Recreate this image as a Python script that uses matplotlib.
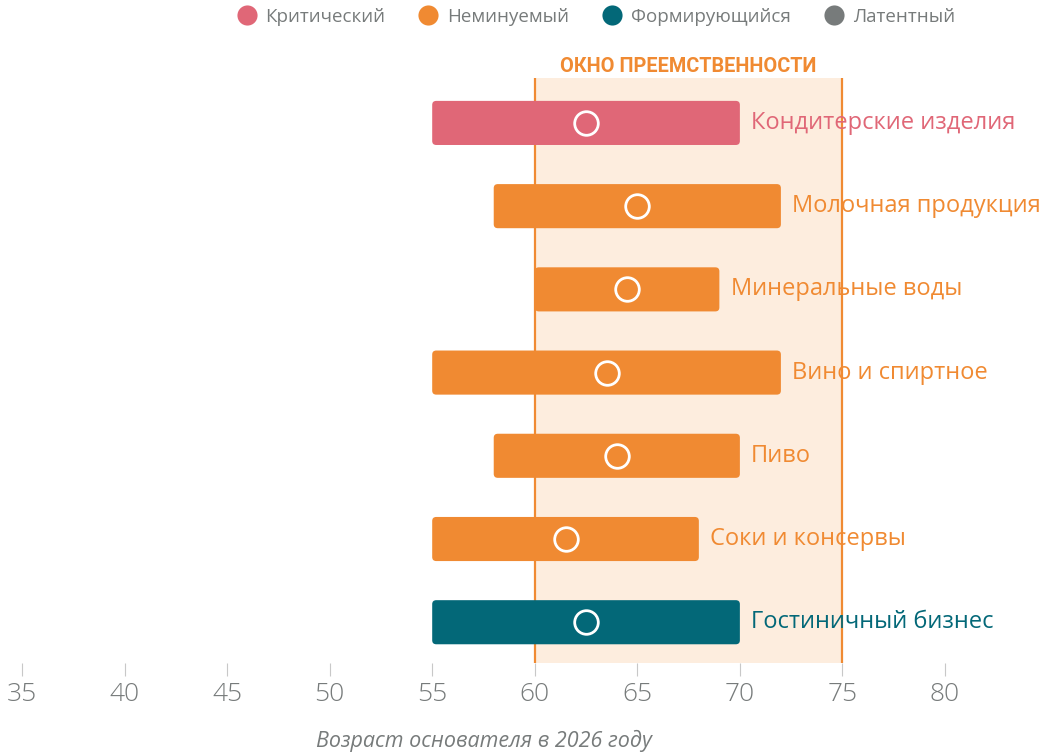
import matplotlib

matplotlib.use("Agg")
import matplotlib.pyplot as plt
from matplotlib.lines import Line2D
from matplotlib.patches import FancyBboxPatch

# founder-age ranges per industry, in years (age in 2026)
industries = [
    "Кондитерские изделия",
    "Молочная продукция",
    "Минеральные воды",
    "Вино и спиртное",
    "Пиво",
    "Соки и консервы",
    "Гостиничный бизнес",
]
age_min = [55, 58, 60, 55, 58, 55, 55]
age_max = [70, 72, 69, 72, 70, 68, 70]
age_median = [62.5, 65, 64.5, 63.5, 64, 61.5, 62.5]
status = ["crit", "inev", "inev", "inev", "inev", "inev", "form"]

status_labels = {
    "crit": "Критический",
    "inev": "Неминуемый",
    "form": "Формирующийся",
    "lat": "Латентный",
}
window = (60, 75)
x_ticks = [35, 40, 45, 50, 55, 60, 65, 70, 75, 80]

colors = {
    "crit": "#E06777",
    "inev": "#F08A32",
    "form": "#036878",
    "lat": "#777B7B",
}
ORANGE = "#F08A32"
GRAY = "#777B7B"

plt.rcParams["font.family"] = ["Open Sans", "DejaVu Sans"]

fig = plt.figure(figsize=(10.41, 7.56), dpi=100)
ax = fig.add_axes([0, 1 - 663 / 756, 1, 585 / 756])
ax.set_xlim(33.93, 84.68)
ax.set_ylim(6.49, -0.54)

# succession window
ax.axvspan(*window, color="#FDEDDE", zorder=0, lw=0)
for xv in window:
    ax.axvline(xv, color=ORANGE, lw=1.6, zorder=1)
ax.text(sum(window) / 2, -0.57, "ОКНО ПРЕЕМСТВЕННОСТИ", ha="center", va="bottom",
        color=ORANGE, fontsize=14.3, fontweight="bold",
        family=["Roboto", "Open Sans"])

bar_h = 0.53
for i, (lo, hi, med, st, name) in enumerate(zip(age_min, age_max, age_median, status, industries)):
    c = colors[st]
    box = FancyBboxPatch((lo, i - bar_h / 2), hi - lo, bar_h,
                         boxstyle="round,pad=0,rounding_size=0.2",
                         mutation_aspect=0.24, fc=c, ec="none", zorder=2)
    ax.add_patch(box)
    ax.plot(med, i, "o", ms=17, mfc="none", mec="white", mew=2, zorder=3)
    ax.text(hi + 0.55, i, name, ha="left", va="center", color=c, fontsize=17, zorder=3)

for s in ax.spines.values():
    s.set_visible(False)
ax.set_yticks([])
ax.set_xticks(x_ticks)
ax.tick_params(axis="x", length=9, width=0.8, color="#C8C8C8", labelcolor=GRAY,
               labelsize=19, pad=5)
for t in ax.get_xticklabels():
    t.set_fontweight("light")
ax.set_xlabel("Возраст основателя в 2026 году", color=GRAY, fontsize=15.5,
              style="italic")
ax.xaxis.set_label_coords((57.5 - 33.93) / (84.68 - 33.93), -0.115)

handles = [Line2D([], [], marker="o", ls="none", ms=14.5, mfc=colors[k], mec="none")
           for k in status_labels]
fig.legend(handles, list(status_labels.values()), loc="center",
           bbox_to_anchor=(596 / 1041, 1 - 17 / 756), ncol=4, frameon=False,
           fontsize=13.5, labelcolor=GRAY, handletextpad=0.5, columnspacing=1.8,
           handlelength=1.0)

fig.savefig("out.png", dpi=100)
